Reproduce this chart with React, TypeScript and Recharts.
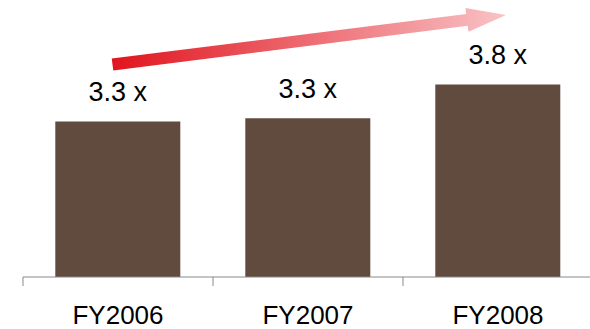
import { BarChart, Bar, XAxis, YAxis, LabelList } from 'recharts';

// fiscal years and the multiple reached in each
const years = ['FY2006', 'FY2007', 'FY2008'];
const multiples = [3.3, 3.345, 3.8];

const data = years.map((y, i) => ({ year: y, multiple: multiples[i] }));

const FONT = '"Liberation Sans", Arial, sans-serif';
const AXIS = '#898989';

function YearTick(props: any) {
  const { x, y, payload } = props;
  const half = payload && payload.offset ? payload.offset : 95;
  return (
    <g>
      <line x1={x - half} y1={y} x2={x - half} y2={y + 9} stroke={AXIS} strokeWidth={1} />
      <text x={x} y={y + 47} textAnchor="middle" fontSize={26} fontFamily={FONT} fill="#000">
        {payload.value}
      </text>
    </g>
  );
}

export default function App() {
  return (
    <div style={{ position: 'absolute', left: 0, top: 0, width: 590, height: 329, overflow: 'hidden', background: '#fff' }}>
      <BarChart width={593} height={329} data={data} margin={{ top: 40, right: 0, left: 23, bottom: 2 }} barCategoryGap="17%">
        <XAxis
          dataKey="year"
          height={50}
          axisLine={{ stroke: AXIS, strokeWidth: 1 }}
          tickLine={false}
          tickSize={0}
          tickMargin={0}
          tick={<YearTick />}
          interval={0}
        />
        <YAxis hide domain={[1.2, 4.4]} />
        <Bar dataKey="multiple" fill="#614B3F" isAnimationActive={false}>
          <LabelList
            dataKey="multiple"
            position="top"
            offset={20}
            formatter={(v: any) => `${Number(v).toFixed(1)} x`}
            style={{ fontSize: 27, fontFamily: FONT, fill: '#000' }}
          />
        </Bar>
      </BarChart>
      {/* growth arrow */}
      <svg width={590} height={329} style={{ position: 'absolute', left: 0, top: 0, pointerEvents: 'none' }}>
        <defs>
          <linearGradient id="arrowGrad" x1="0" y1="0" x2="1" y2="0">
            <stop offset="0%" stopColor="#E1141E" />
            <stop offset="100%" stopColor="#F9C3C6" />
          </linearGradient>
        </defs>
        <polygon
          points="111.75,58.55 466.25,13.95 465.5,8 506,15 468.5,31.8 467.75,25.85 113.25,70.45"
          fill="url(#arrowGrad)"
        />
      </svg>
    </div>
  );
}
